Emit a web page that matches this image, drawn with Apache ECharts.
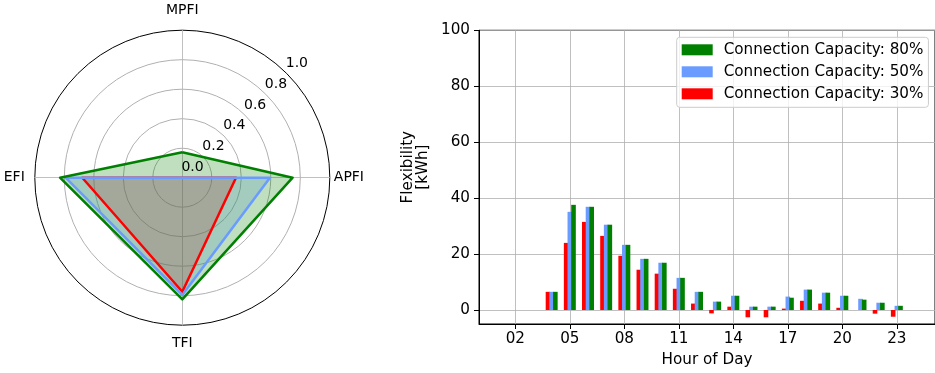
<!DOCTYPE html>
<html>
<head>
<meta charset="utf-8">
<script src="https://cdn.jsdelivr.net/npm/echarts@6/dist/echarts.min.js"></script>
<style>
html, body { margin: 0; padding: 0; background: #fff; }
#chart { width: 935px; height: 373px; }
</style>
</head>
<body>
<div id="chart"></div>
<script>
// radar (indicators go counter-clockwise from the top)
var indicatorNames = ['MPFI', 'EFI', 'TFI', 'APFI'];
var radar80 = [0.172, 0.829, 0.825, 0.748];
var radar50 = [0.0, 0.791, 0.795, 0.594];
var radar30 = [0.0, 0.678, 0.773, 0.364];

// flexibility per hour
var hours = [0, 1, 2, 3, 4, 5, 6, 7, 8, 9, 10, 11, 12, 13, 14, 15, 16, 17, 18, 19, 20, 21, 22, 23];
var cap80 = [0, 0, 0, 0, 6.5, 37.6, 36.9, 30.5, 23.3, 18.3, 16.9, 11.5, 6.5, 3.0, 5.1, 1.2, 1.2, 4.4, 7.3, 6.2, 5.1, 3.7, 2.6, 1.5];
var cap50 = [0, 0, 0, 0, 6.5, 35.1, 36.9, 30.5, 23.3, 18.3, 16.9, 11.5, 6.5, 3.0, 5.1, 1.2, 1.2, 4.8, 7.3, 6.2, 5.1, 4.0, 2.6, 1.5];
var cap30 = [0, 0, 0, 0, 6.5, 24.0, 31.5, 26.5, 19.4, 14.4, 13.0, 7.6, 2.3, -1.2, 1.2, -2.6, -2.6, 0.5, 3.3, 2.3, 0.8, 0, -1.3, -2.4];

var seriesNames = ['Connection Capacity: 80%', 'Connection Capacity: 50%', 'Connection Capacity: 30%'];
var colors = ['#008000', '#6a9bff', '#ff0000'];

var hourTicks = [2, 5, 8, 11, 14, 17, 20, 23];
var flexTicks = [0, 20, 40, 60, 80, 100];

var font = 'DejaVu Sans';
var fsRadar = 14;
var fsBar = 15.2;

function pairs(vals) {
    return hours.map(function (h, i) { return [h, vals[i]]; });
}

// fills first, outlines afterwards so every outline stays on top of all fills
function radarFill(name, vals, color) {
    return {
        name: name, value: vals, symbol: 'none',
        lineStyle: { width: 0, opacity: 0 },
        areaStyle: { color: color, opacity: 0.25 }
    };
}
function radarLine(name, vals, color) {
    return {
        name: name, value: vals, symbol: 'none',
        lineStyle: { color: color, width: 2.5 }
    };
}

function barSeries(name, vals, color) {
    return {
        name: name,
        type: 'bar',
        data: pairs(vals),
        barWidth: 4.6,
        barGap: '-20%',
        itemStyle: { color: color }
    };
}

var nameKey = { MPFI: 't', EFI: 'l', TFI: 'b', APFI: 'r' };

var option = {
    animation: false,
    textStyle: { fontFamily: font },
    radar: {
        center: [182.3, 177.7],
        radius: 147.5,
        startAngle: 90,
        shape: 'circle',
        splitNumber: 5,
        indicator: indicatorNames.map(function (n) { return { name: n, min: 0, max: 1 }; }),
        nameGap: 4,
        axisName: {
            color: '#000', fontSize: fsRadar, fontFamily: font,
            formatter: function (n) { return '{' + nameKey[n] + '|' + n + '}'; },
            rich: {
                t: { fontSize: fsRadar, fontFamily: font, color: '#000', padding: [0, 0, 9, 0] },
                b: { fontSize: fsRadar, fontFamily: font, color: '#000', padding: [7, 0, 0, 0] },
                l: { fontSize: fsRadar, fontFamily: font, color: '#000', padding: [0, 6, 0, 0] },
                r: { fontSize: fsRadar, fontFamily: font, color: '#000' }
            }
        },
        splitLine: { lineStyle: { color: ['#b0b0b0', '#b0b0b0', '#b0b0b0', '#b0b0b0', '#b0b0b0', '#000'], width: 1 } },
        splitArea: { show: false },
        axisLine: { lineStyle: { color: '#b0b0b0', width: 0.8 } },
        axisTick: { show: false },
        axisLabel: { show: false }
    },
    // only used for the 0.0 .. 1.0 labels of the radar
    polar: { center: [182.3, 177.7], radius: [14.5, 162] },
    angleAxis: { type: 'value', min: 0, max: 360, startAngle: 45, show: false },
    radiusAxis: {
        type: 'value', min: 0, max: 1, interval: 0.2, z: 10,
        axisLine: { show: false },
        axisTick: { show: false },
        splitLine: { show: false },
        axisLabel: {
            margin: 0, align: 'center', verticalAlign: 'middle',
            color: '#000', fontSize: fsRadar, fontFamily: font,
            formatter: function (v) { return v.toFixed(1); }
        }
    },
    grid: { left: 479, top: 30.3, right: -4, bottom: 48.7, show: true, borderColor: '#000', borderWidth: 1 },
    xAxis: {
        type: 'value', min: 0, max: 25.1,
        name: 'Hour of Day', nameLocation: 'middle', nameGap: 29,
        nameTextStyle: { color: '#000', fontSize: fsBar, fontFamily: font },
        axisLine: { onZero: false, lineStyle: { color: '#000' } },
        axisTick: { length: 5, customValues: hourTicks, lineStyle: { color: '#000' } },
        axisLabel: {
            customValues: hourTicks, margin: 8, color: '#000', fontSize: fsBar, fontFamily: font,
            formatter: function (v) { return (v < 10 ? '0' : '') + v; }
        },
        splitLine: { show: true, lineStyle: { color: '#b0b0b0', width: 0.8 } }
    },
    yAxis: {
        type: 'value', min: -5, max: 100,
        name: 'Flexibility\n[kWh]', nameLocation: 'middle', nameGap: 48, nameRotate: 90,
        nameTextStyle: { color: '#000', fontSize: fsBar, fontFamily: font, lineHeight: 15, padding: [0, 0, 0, 20] },
        axisLine: { show: true, lineStyle: { color: '#000' } },
        axisTick: { show: true, length: 5, customValues: flexTicks, lineStyle: { color: '#000' } },
        axisLabel: { customValues: flexTicks, margin: 9, color: '#000', fontSize: fsBar, fontFamily: font },
        splitLine: { show: true, lineStyle: { color: '#b0b0b0', width: 0.8 } }
    },
    legend: {
        data: seriesNames,
        orient: 'vertical',
        left: 676.7,
        top: 37.3,
        icon: 'rect',
        itemWidth: 31,
        itemHeight: 11,
        itemGap: 5,
        padding: [4, 5, 5, 5],
        backgroundColor: 'rgba(255,255,255,0.8)',
        borderColor: '#cccccc',
        borderWidth: 1,
        borderRadius: 3,
        textStyle: { color: '#000', fontSize: fsBar, fontFamily: font, lineHeight: 17, padding: [0, 0, 0, 6] }
    },
    series: [
        {
            type: 'radar',
            z: 2,
            data: [
                radarFill(seriesNames[2], radar30, colors[2]),
                radarFill(seriesNames[1], radar50, colors[1]),
                radarFill(seriesNames[0], radar80, colors[0])
            ]
        },
        {
            type: 'radar',
            z: 3,
            data: [
                radarLine(seriesNames[2], radar30, colors[2]),
                radarLine(seriesNames[1], radar50, colors[1]),
                radarLine(seriesNames[0], radar80, colors[0])
            ]
        },
        barSeries(seriesNames[2], cap30, colors[2]),
        barSeries(seriesNames[1], cap50, colors[1]),
        barSeries(seriesNames[0], cap80, colors[0])
    ]
};

var chart = echarts.init(document.getElementById('chart'));
chart.setOption(option);
window.addEventListener('resize', chart.resize);
</script>
</body>
</html>
